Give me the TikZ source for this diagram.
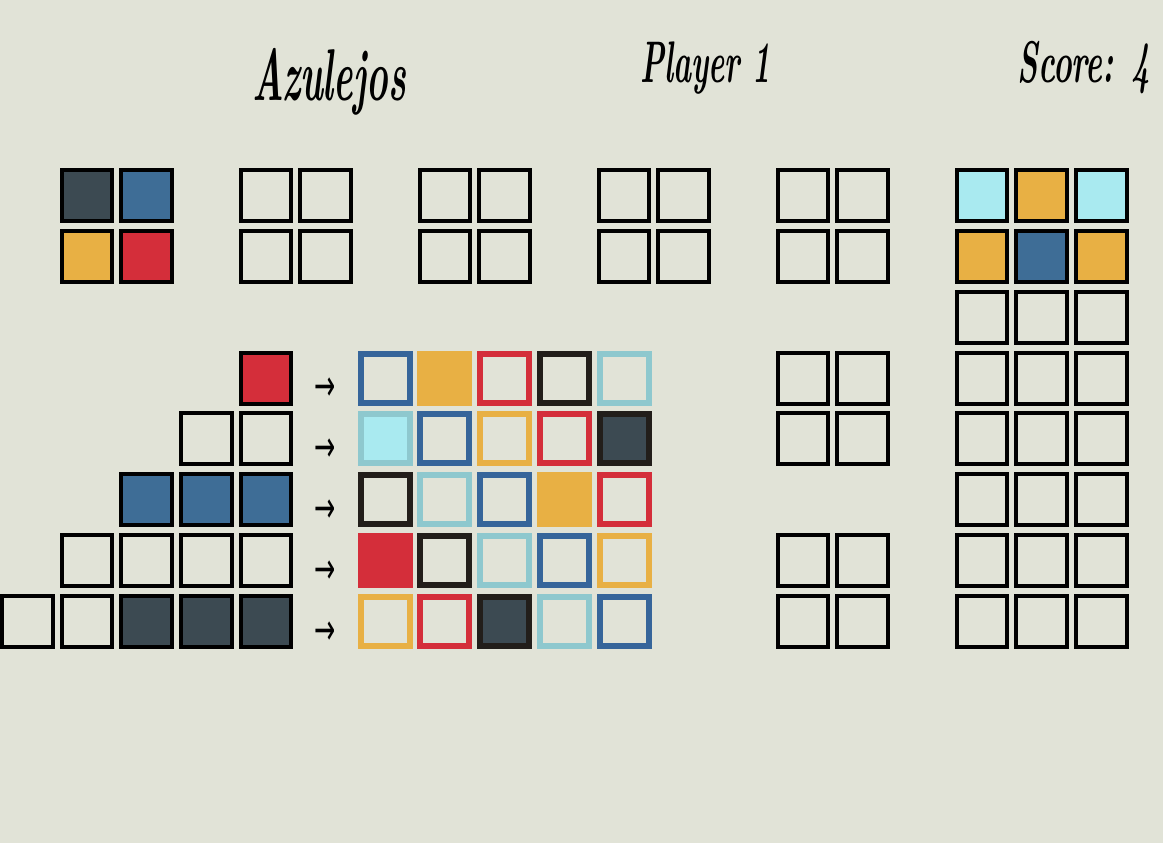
\documentclass[tikz,border=0pt]{standalone}
\usepackage{fontspec}
\usepackage{graphicx}
\newfontfamily\arrowfont{DejaVu Sans}
\definecolor{bgcol}{HTML}{E1E3D7}
\definecolor{tileblack}{HTML}{3C4A52}
\definecolor{tileblue}{HTML}{3E6D96}
\definecolor{tileyellow}{HTML}{E8B044}
\definecolor{tilered}{HTML}{D42E3A}
\definecolor{tilecyan}{HTML}{A9EAF0}
\definecolor{edgecyan}{HTML}{8EC8CE}
\definecolor{edgeblack}{HTML}{221E1A}
\definecolor{edgeblue}{HTML}{36659A}
\tikzset{every picture/.style={line width=0.75pt}}
\tikzset{
  tile/.style={draw=black, line width=3pt, minimum width=37.9pt, minimum height=38.3pt, inner sep=0pt},
  walltile/.style={line width=4.5pt, minimum width=36.75pt, minimum height=36.75pt, inner sep=0pt},
  headtext/.style={anchor=base west, inner sep=0pt, font=\fontsize{44pt}{48pt}\selectfont\bfseries\itshape},
  arrowtext/.style={inner sep=0pt, font=\fontsize{19pt}{22pt}\selectfont\arrowfont}
}

\begin{document}
\begin{tikzpicture}[x=0.75pt,y=0.75pt,yscale=-1,xscale=1]
\useasboundingbox (0,0) rectangle (1163,843);
%Shape: Rectangle [background]
\fill [bgcol] (0,0) rectangle (1163,843);

% Text Node
\node [headtext, font=\fontsize{55pt}{60pt}\selectfont\bfseries\itshape] (title) at (252,100) {\scalebox{0.5}[1]{Azulejos}};
% Text Node
\node [headtext] (player) at (640,82) {\scalebox{0.52}[1]{Player 1}};
% Text Node
\node [headtext] (score) at (1017,82) {\scalebox{0.54}[1]{Score: 4}};

%Shape: Square [factory 1]
\node [tile, fill=tileblack] (f11) at (86.9,195.5) {};
\node [tile, fill=tileblue] (f12) at (146.6,195.5) {};
\node [tile, fill=tileyellow] (f13) at (86.9,256.4) {};
\node [tile, fill=tilered] (f14) at (146.6,256.4) {};
%Shape: Square [factory 2]
\node [tile] (f21) at (265.9,195.5) {};
\node [tile] (f22) at (325.6,195.5) {};
\node [tile] (f23) at (265.9,256.4) {};
\node [tile] (f24) at (325.6,256.4) {};
%Shape: Square [factory 3]
\node [tile] (f31) at (444.9,195.5) {};
\node [tile] (f32) at (504.6,195.5) {};
\node [tile] (f33) at (444.9,256.4) {};
\node [tile] (f34) at (504.6,256.4) {};
%Shape: Square [factory 4]
\node [tile] (f41) at (624.0,195.5) {};
\node [tile] (f42) at (683.6,195.5) {};
\node [tile] (f43) at (624.0,256.4) {};
\node [tile] (f44) at (683.6,256.4) {};
%Shape: Square [factory 5]
\node [tile] (f51) at (803.0,195.5) {};
\node [tile] (f52) at (862.6,195.5) {};
\node [tile] (f53) at (803.0,256.4) {};
\node [tile] (f54) at (862.6,256.4) {};

%Shape: Square [side column]
\node [tile] (s11) at (803.0,378.1) {};
\node [tile] (s12) at (862.6,378.1) {};
\node [tile] (s21) at (803.0,438.9) {};
\node [tile] (s22) at (862.6,438.9) {};
\node [tile] (s31) at (803.0,560.7) {};
\node [tile] (s32) at (862.6,560.7) {};
\node [tile] (s41) at (803.0,621.5) {};
\node [tile] (s42) at (862.6,621.5) {};

%Shape: Square [right column]
\node [tile, fill=tilecyan] (r11) at (982.0,195.5) {};
\node [tile, fill=tileyellow] (r12) at (1041.6,195.5) {};
\node [tile, fill=tilecyan] (r13) at (1101.3,195.5) {};
\node [tile, fill=tileyellow] (r21) at (982.0,256.4) {};
\node [tile, fill=tileblue] (r22) at (1041.6,256.4) {};
\node [tile, fill=tileyellow] (r23) at (1101.3,256.4) {};
\node [tile] (r31) at (982.0,317.2) {};
\node [tile] (r32) at (1041.6,317.2) {};
\node [tile] (r33) at (1101.3,317.2) {};
\node [tile] (r41) at (982.0,378.1) {};
\node [tile] (r42) at (1041.6,378.1) {};
\node [tile] (r43) at (1101.3,378.1) {};
\node [tile] (r51) at (982.0,438.9) {};
\node [tile] (r52) at (1041.6,438.9) {};
\node [tile] (r53) at (1101.3,438.9) {};
\node [tile] (r61) at (982.0,499.8) {};
\node [tile] (r62) at (1041.6,499.8) {};
\node [tile] (r63) at (1101.3,499.8) {};
\node [tile] (r71) at (982.0,560.7) {};
\node [tile] (r72) at (1041.6,560.7) {};
\node [tile] (r73) at (1101.3,560.7) {};
\node [tile] (r81) at (982.0,621.5) {};
\node [tile] (r82) at (1041.6,621.5) {};
\node [tile] (r83) at (1101.3,621.5) {};

%Shape: Square [pattern lines]
\node [tile, fill=tilered] (p15) at (265.9,378.1) {};
\node [tile] (p24) at (206.3,438.9) {};
\node [tile] (p25) at (265.9,438.9) {};
\node [tile, fill=tileblue] (p33) at (146.6,499.8) {};
\node [tile, fill=tileblue] (p34) at (206.3,499.8) {};
\node [tile, fill=tileblue] (p35) at (265.9,499.8) {};
\node [tile] (p42) at (86.9,560.7) {};
\node [tile] (p43) at (146.6,560.7) {};
\node [tile] (p44) at (206.3,560.7) {};
\node [tile] (p45) at (265.9,560.7) {};
\node [tile] (p51) at (27.3,621.5) {};
\node [tile] (p52) at (86.9,621.5) {};
\node [tile, fill=tileblack] (p53) at (146.6,621.5) {};
\node [tile, fill=tileblack] (p54) at (206.3,621.5) {};
\node [tile, fill=tileblack] (p55) at (265.9,621.5) {};

% Text Node
\node [arrowtext] (a1) at (325,389.6) {\scalebox{1}[1.7]{→}};
\node [arrowtext] (a2) at (325,450.4) {\scalebox{1}[1.7]{→}};
\node [arrowtext] (a3) at (325,511.3) {\scalebox{1}[1.7]{→}};
\node [arrowtext] (a4) at (325,572.2) {\scalebox{1}[1.7]{→}};
\node [arrowtext] (a5) at (325,633.0) {\scalebox{1}[1.7]{→}};

%Shape: Square [wall row 1]
\node [walltile, draw=edgeblue] (w11) at (385.3,378.1) {};
\node [walltile, draw=tileyellow, fill=tileyellow] (w12) at (444.9,378.1) {};
\node [walltile, draw=tilered] (w13) at (504.6,378.1) {};
\node [walltile, draw=edgeblack] (w14) at (564.3,378.1) {};
\node [walltile, draw=edgecyan] (w15) at (624.0,378.1) {};
%Shape: Square [wall row 2]
\node [walltile, draw=edgecyan, fill=tilecyan] (w21) at (385.3,438.9) {};
\node [walltile, draw=edgeblue] (w22) at (444.9,438.9) {};
\node [walltile, draw=tileyellow] (w23) at (504.6,438.9) {};
\node [walltile, draw=tilered] (w24) at (564.3,438.9) {};
\node [walltile, draw=edgeblack, fill=tileblack] (w25) at (624.0,438.9) {};
%Shape: Square [wall row 3]
\node [walltile, draw=edgeblack] (w31) at (385.3,499.8) {};
\node [walltile, draw=edgecyan] (w32) at (444.9,499.8) {};
\node [walltile, draw=edgeblue] (w33) at (504.6,499.8) {};
\node [walltile, draw=tileyellow, fill=tileyellow] (w34) at (564.3,499.8) {};
\node [walltile, draw=tilered] (w35) at (624.0,499.8) {};
%Shape: Square [wall row 4]
\node [walltile, draw=tilered, fill=tilered] (w41) at (385.3,560.7) {};
\node [walltile, draw=edgeblack] (w42) at (444.9,560.7) {};
\node [walltile, draw=edgecyan] (w43) at (504.6,560.7) {};
\node [walltile, draw=edgeblue] (w44) at (564.3,560.7) {};
\node [walltile, draw=tileyellow] (w45) at (624.0,560.7) {};
%Shape: Square [wall row 5]
\node [walltile, draw=tileyellow] (w51) at (385.3,621.5) {};
\node [walltile, draw=tilered] (w52) at (444.9,621.5) {};
\node [walltile, draw=edgeblack, fill=tileblack] (w53) at (504.6,621.5) {};
\node [walltile, draw=edgecyan] (w54) at (564.3,621.5) {};
\node [walltile, draw=edgeblue] (w55) at (624.0,621.5) {};

\end{tikzpicture}
\end{document}
